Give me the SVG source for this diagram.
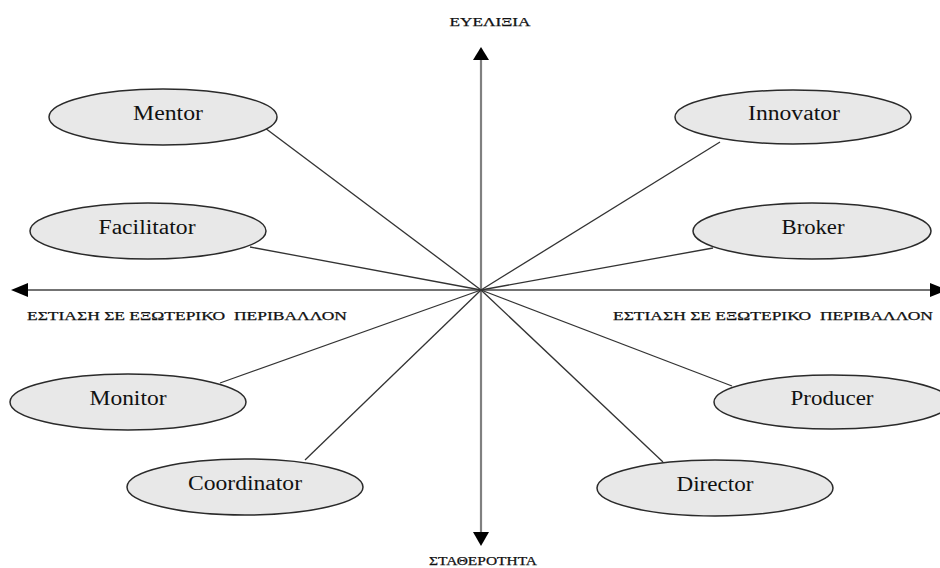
<svg xmlns="http://www.w3.org/2000/svg" width="940" height="568" viewBox="0 0 940 568">
  <style>
    .role ellipse { fill: #e8e8e8; stroke: #2a2a2a; stroke-width: 1.5; }
    .role text { font-family: 'Liberation Serif', 'DejaVu Serif', 'Times New Roman', serif; font-size: 20px; fill: #111; text-anchor: middle; }
    .axis-label { font-family: 'Liberation Serif', 'DejaVu Serif', 'Times New Roman', serif; font-size: 12.5px; fill: #111; text-anchor: middle; white-space: pre; stroke: #111; stroke-width: 0.25; }
    .spoke { stroke: #333; stroke-width: 1.3; fill: none; }
    .axis-v { stroke: #808080; stroke-width: 2.2; }
    .axis-h { stroke: #444; stroke-width: 1.6; }
    .head { fill: #000; }
  </style>

  <rect width="940" height="568" fill="#fff"/>

  <!-- axes -->
  <g id="axes">
    <line class="axis-v" x1="481" y1="58" x2="481" y2="533"/>
    <polygon class="head" points="481,47 473,60 489,60"/>
    <polygon class="head" points="481,546 473,532 489,532"/>
    <line class="axis-h" x1="26" y1="290" x2="932" y2="290"/>
    <polygon class="head" points="11,290 28,283 28,297"/>
    <polygon class="head" points="947,290 930,283 930,297"/>
  </g>

  <!-- axis labels -->
  <g id="axis-labels">
    <text class="axis-label" x="490" y="26" textLength="81" lengthAdjust="spacingAndGlyphs">ΕΥΕΛΙΞΙΑ</text>
    <text class="axis-label" x="483" y="565" textLength="108" lengthAdjust="spacingAndGlyphs">ΣΤΑΘΕΡΟΤΗΤΑ</text>
    <text class="axis-label" x="187" y="320" textLength="320" lengthAdjust="spacingAndGlyphs">ΕΣΤΙΑΣΗ ΣΕ ΕΞΩΤΕΡΙΚΟ  ΠΕΡΙΒΑΛΛΟΝ</text>
    <text class="axis-label" x="773" y="320" textLength="320" lengthAdjust="spacingAndGlyphs">ΕΣΤΙΑΣΗ ΣΕ ΕΞΩΤΕΡΙΚΟ  ΠΕΡΙΒΑΛΛΟΝ</text>
  </g>

  <!-- spokes from the origin to each role -->
  <g id="connectors">
    <line class="spoke" x1="481" y1="290" x2="265" y2="128"/>
    <line class="spoke" x1="481" y1="290" x2="720" y2="142"/>
    <line class="spoke" x1="481" y1="290" x2="250" y2="247"/>
    <line class="spoke" x1="481" y1="290" x2="713" y2="248"/>
    <line class="spoke" x1="481" y1="290" x2="220" y2="383"/>
    <line class="spoke" x1="481" y1="290" x2="732" y2="386"/>
    <line class="spoke" x1="481" y1="290" x2="305" y2="460"/>
    <line class="spoke" x1="481" y1="290" x2="663" y2="462"/>
  </g>

  <!-- roles -->
  <g id="mentor" class="role">
    <ellipse cx="163" cy="117" rx="114" ry="28"/>
    <text x="168" y="120" textLength="70" lengthAdjust="spacingAndGlyphs">Mentor</text>
  </g>
  <g id="innovator" class="role">
    <ellipse cx="793" cy="117" rx="118" ry="27"/>
    <text x="794" y="120" textLength="92" lengthAdjust="spacingAndGlyphs">Innovator</text>
  </g>
  <g id="facilitator" class="role">
    <ellipse cx="148" cy="231" rx="118" ry="28"/>
    <text x="147" y="234" textLength="97" lengthAdjust="spacingAndGlyphs">Facilitator</text>
  </g>
  <g id="broker" class="role">
    <ellipse cx="812" cy="231" rx="119" ry="28"/>
    <text x="813" y="234" textLength="63" lengthAdjust="spacingAndGlyphs">Broker</text>
  </g>
  <g id="monitor" class="role">
    <ellipse cx="128" cy="402" rx="118" ry="28"/>
    <text x="128" y="405" textLength="77" lengthAdjust="spacingAndGlyphs">Monitor</text>
  </g>
  <g id="producer" class="role">
    <ellipse cx="832" cy="402" rx="118" ry="27"/>
    <text x="832" y="405" textLength="83" lengthAdjust="spacingAndGlyphs">Producer</text>
  </g>
  <g id="coordinator" class="role">
    <ellipse cx="245" cy="487" rx="118" ry="28"/>
    <text x="245" y="490" textLength="114" lengthAdjust="spacingAndGlyphs">Coordinator</text>
  </g>
  <g id="director" class="role">
    <ellipse cx="715" cy="488" rx="118" ry="28"/>
    <text x="715" y="491" textLength="77" lengthAdjust="spacingAndGlyphs">Director</text>
  </g>
</svg>
